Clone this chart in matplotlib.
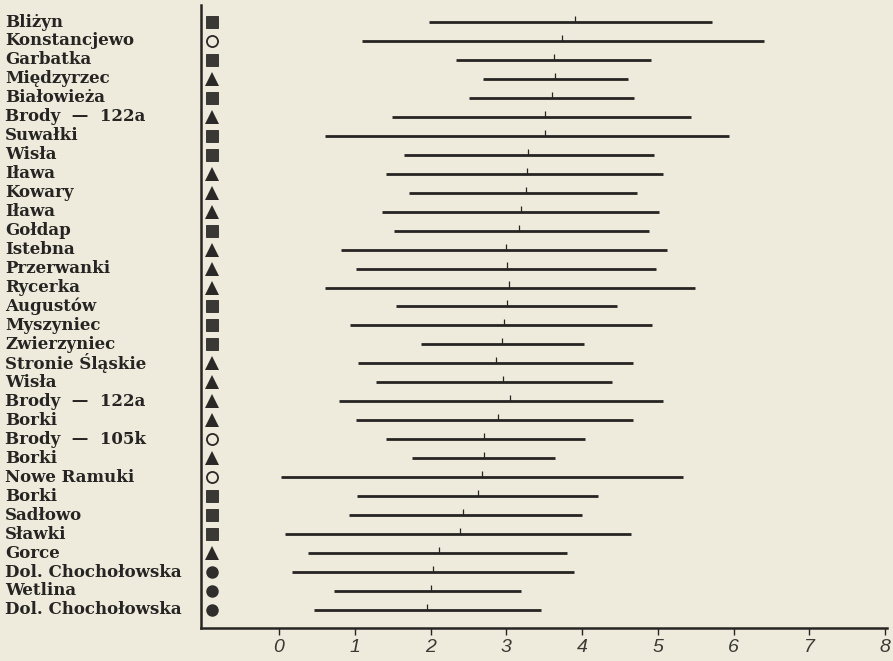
import matplotlib
matplotlib.use("Agg")
import matplotlib.pyplot as plt
import matplotlib.transforms as mtransforms

labels = ["Bliżyn", "Konstancjewo", "Garbatka", "Międzyrzec", "Białowieża",
          "Brody  —  122a", "Suwałki", "Wisła", "Iława", "Kowary", "Iława",
          "Gołdap", "Istebna", "Przerwanki", "Rycerka", "Augustów", "Myszyniec",
          "Zwierzyniec", "Stronie Śląskie", "Wisła", "Brody  —  122a", "Borki",
          "Brody  —  105k", "Borki", "Nowe Ramuki", "Borki", "Sadłowo", "Sławki",
          "Gorce", "Dol. Chochołowska", "Wetlina", "Dol. Chochołowska"]
symbols = ["s", "o", "s", "^", "s", "^", "s", "s", "^", "^", "^", "s", "^", "^",
           "^", "s", "s", "s", "^", "^", "^", "^", "o", "^", "o", "s", "s", "s",
           "^", "c", "c", "c"]
mins = [1.98, 1.10, 2.34, 2.69, 2.51, 1.49, 0.61, 1.65, 1.41, 1.72, 1.36, 1.52,
        0.82, 1.02, 0.61, 1.54, 0.94, 1.87, 1.04, 1.28, 0.79, 1.02, 1.41, 1.75,
        0.03, 1.03, 0.92, 0.08, 0.38, 0.17, 0.73, 0.46]
maxs = [5.71, 6.40, 4.91, 4.60, 4.68, 5.44, 5.94, 4.95, 5.07, 4.72, 5.01, 4.88,
        5.12, 4.97, 5.49, 4.46, 4.92, 4.02, 4.67, 4.39, 5.07, 4.67, 4.04, 3.64,
        5.33, 4.21, 4.00, 4.64, 3.80, 3.89, 3.19, 3.46]
means = [3.90, 3.73, 3.63, 3.64, 3.60, 3.51, 3.51, 3.29, 3.27, 3.26, 3.19, 3.17,
         2.99, 3.01, 3.03, 3.01, 2.97, 2.94, 2.86, 2.96, 3.05, 2.89, 2.70, 2.70,
         2.68, 2.63, 2.43, 2.39, 2.11, 2.03, 2.00, 1.95]
xticks = [0, 1, 2, 3, 4, 5, 6, 7, 8]

BG = "#EFEBDC"
INK = "#262523"
MARK_X = -0.88

fig = plt.figure(figsize=(8.93, 6.61), dpi=100, facecolor=BG)
ax = fig.add_axes([0.225, 0.050, 0.768, 0.9425])
ax.set_facecolor(BG)

n = len(labels)
rows = list(range(n))

ax.hlines(rows, mins, maxs, color=INK, linewidth=2.0, capstyle="butt")
ax.vlines(means, [r - 0.32 for r in rows], rows, color=INK, linewidth=0.9)

for r, s in zip(rows, symbols):
    if s == "s":
        ax.plot(MARK_X, r, marker="s", markersize=9, color="#3a3936",
                markeredgecolor="#2a2927", markeredgewidth=0.6)
    elif s == "^":
        ax.plot(MARK_X, r, marker="^", markersize=10, color="#2a2927",
                markeredgewidth=0)
    elif s == "o":
        ax.plot(MARK_X, r, marker="o", markersize=8, markerfacecolor="none",
                markeredgecolor="#2a2927", markeredgewidth=1.3)
    else:
        ax.plot(MARK_X, r, marker="o", markersize=9, color="#2f2e2c",
                markeredgewidth=0)

trans = mtransforms.blended_transform_factory(fig.transFigure, ax.transData)
for r, lab in zip(rows, labels):
    ax.text(0.006, r, lab, transform=trans, ha="left", va="center",
            fontsize=12, fontweight="bold", family="DejaVu Serif",
            color=INK, clip_on=False)

ax.set_xlim(-1.03, 8.02)
ax.set_ylim(n - 0.05, -0.9)
ax.set_yticks([])
ax.set_xticks(xticks)
ax.set_xticklabels([str(t) for t in xticks], fontsize=14, style="italic",
                   family="Liberation Sans", color="#3a3936")
ax.tick_params(axis="x", direction="out", length=5, width=1.0, color=INK, pad=3)

for side in ["top", "right"]:
    ax.spines[side].set_visible(False)
ax.spines["left"].set_color(INK)
ax.spines["left"].set_linewidth(1.8)
ax.spines["bottom"].set_color(INK)
ax.spines["bottom"].set_linewidth(1.8)

fig.savefig("out.png", dpi=100, facecolor=BG)
